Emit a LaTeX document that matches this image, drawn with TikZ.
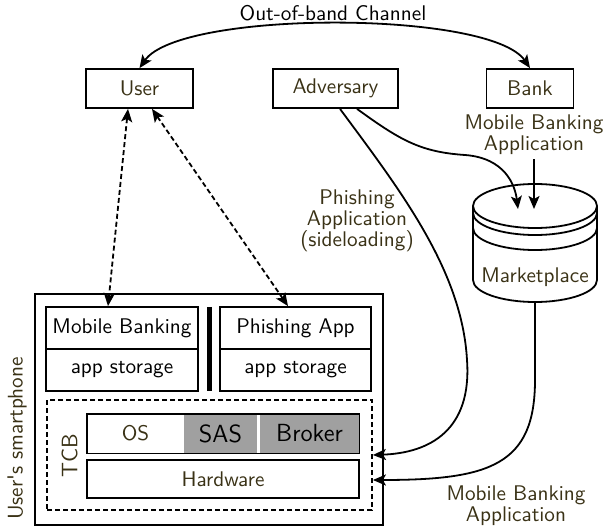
\documentclass[tikz,border=0pt]{standalone}
\usepackage{fontspec}
\usepackage{tikz}
\usetikzlibrary{arrows.meta}
\definecolor{labelbrown}{RGB}{58,50,22}
\definecolor{tcbgray}{RGB}{160,160,160}
\tikzset{>={Stealth[length=6.5pt,width=5.5pt,inset=1.5pt]},
    box/.style={draw, line width=\boxlinewidth, inner sep=0pt, font=\labelfont},
    brown/.style={text=labelbrown},
    plain label/.style={inner sep=0pt, align=center, font=\labelfont, text=labelbrown},
    flow/.style={line width=\boxlinewidth, ->},
    link/.style={line width=\boxlinewidth, <->, dash pattern=on 2.5pt off 1.5pt}}
\newcommand{\boxlinewidth}{.9pt}
\newcommand{\labelfont}{\fontsize{10.6}{10.6}\selectfont\sffamily}
\newcommand{\bigfont}{\fontsize{12.4}{12.4}\selectfont\sffamily}

\begin{document}
\begin{tikzpicture}[x=0.5pt, y=-0.5pt]
  \useasboundingbox (0,0) rectangle (605,529);

  \node[box, brown, minimum width=53.5pt, minimum height=19.5pt] (user) at (139.5,88.5) {User};
  \node[box, brown, minimum width=62.5pt, minimum height=19.5pt] (adv) at (335.5,88.5) {Adversary};
  \node[box, brown, minimum width=43.5pt, minimum height=19.5pt] (bank) at (530,88.5) {Bank};
  \node[plain label, text=black] (oob) at (333,13) {Out-of-band Channel};
  \draw[line width=\boxlinewidth, <->] (user.north) .. controls (180,10) and (490,10) .. (bank.north);

  \node[plain label] (mbapp) at (534,135) {Mobile Banking\\Application};
  \node[plain label] (sideload) at (357,221) {Phishing\\Application\\(sideloading)};
  \node[plain label] (mbapp2) at (516,506) {Mobile Banking\\Application};

  % smartphone
  \node[box, minimum width=174pt, minimum height=115.5pt] (phone) at (209,409.5) {};
  \node[plain label, rotate=90] (phonelabel) at (17,438.5) {User\textquotesingle s smartphone};
  \node[box, minimum width=76pt, minimum height=21pt] (mb) at (122,328) {Mobile Banking};
  \node[box, minimum width=76pt, minimum height=21pt] (mbstore) at (122,370) {app storage};
  \node[box, minimum width=75.5pt, minimum height=21pt] (pa) at (295.5,328) {Phishing App};
  \node[box, minimum width=75.5pt, minimum height=21pt] (pastore) at (295.5,370) {app storage};
  \draw[line width=2.5pt] (209,307) -- (209,391);

  \node[box, dash pattern=on 2.5pt off 1.5pt, minimum width=162.5pt, minimum height=55pt] (tcb) at (209.5,455) {};
  \node[plain label, rotate=90, font=\fontsize{11.2}{11.2}\selectfont\sffamily] (tcblabel) at (69.5,456) {TCB};
  \node[inner sep=0pt, fill=tcbgray, minimum width=36.5pt, minimum height=19.5pt, font=\bigfont] (sas) at (220.5,433.5) {SAS};
  \node[inner sep=0pt, fill=tcbgray, minimum width=49.5pt, minimum height=19.5pt, font=\bigfont] (broker) at (309.5,433.5) {Broker};
  \node[inner sep=0pt, brown, minimum width=48.5pt, minimum height=19.5pt, font=\labelfont] (os) at (135.5,433.5) {OS};
  \draw[line width=\boxlinewidth] (os.north west) rectangle (broker.south east);
  \node[box, brown, minimum width=136pt, minimum height=19pt] (hw) at (223,479) {Hardware};

  \draw[link] ([xshift=-5.75pt]user.south) -- ([xshift=-7pt]mb.north);
  \draw[link] ([xshift=6.25pt]user.south) -- ([xshift=-3.75pt]pa.north);

  % marketplace
  \draw[line width=\boxlinewidth] (473,206) .. controls (473,193.85) and (500.76,184) .. (535,184)
    .. controls (569.24,184) and (597,193.85) .. (597,206)
    .. controls (597,218.15) and (569.24,228) .. (535,228)
    .. controls (500.76,228) and (473,218.15) .. (473,206) -- cycle;
  \draw[line width=\boxlinewidth] (473,206) -- (473,280) .. controls (473,292.15) and (500.76,302) .. (535,302)
    .. controls (569.24,302) and (597,292.15) .. (597,280) -- (597,206);
  \draw[line width=\boxlinewidth] (473,213) .. controls (473,225.15) and (500.76,235) .. (535,235)
    .. controls (569.24,235) and (597,225.15) .. (597,213);
  \draw[line width=\boxlinewidth] (473,228) .. controls (473,240.15) and (500.76,250) .. (535,250)
    .. controls (569.24,250) and (597,240.15) .. (597,228);
  \node[plain label] (market) at (535,277) {Marketplace};
  \coordinate (mkin1) at (518,209);
  \coordinate (mkin2) at (534,209);
  \coordinate (mkout) at (535,302);

  \draw[flow] ([yshift=-2pt]mbapp.south) -- (mkin2);
  \draw[flow] ([xshift=10.75pt]adv.south) .. controls (400,140) and (420,152) .. (465,155)
    .. controls (505,158) and (515,185) .. (mkin1);
  \draw[flow] ([xshift=2.25pt]adv.south) .. controls (400,190) and (462,270) .. (467,360)
    .. controls (472,430) and (430,453) .. (tcb.east);
  \draw[flow] (mkout) -- (535,380) .. controls (535,465) and (490,480) .. ([yshift=-12.5pt]tcb.east);
\end{tikzpicture}
\end{document}
